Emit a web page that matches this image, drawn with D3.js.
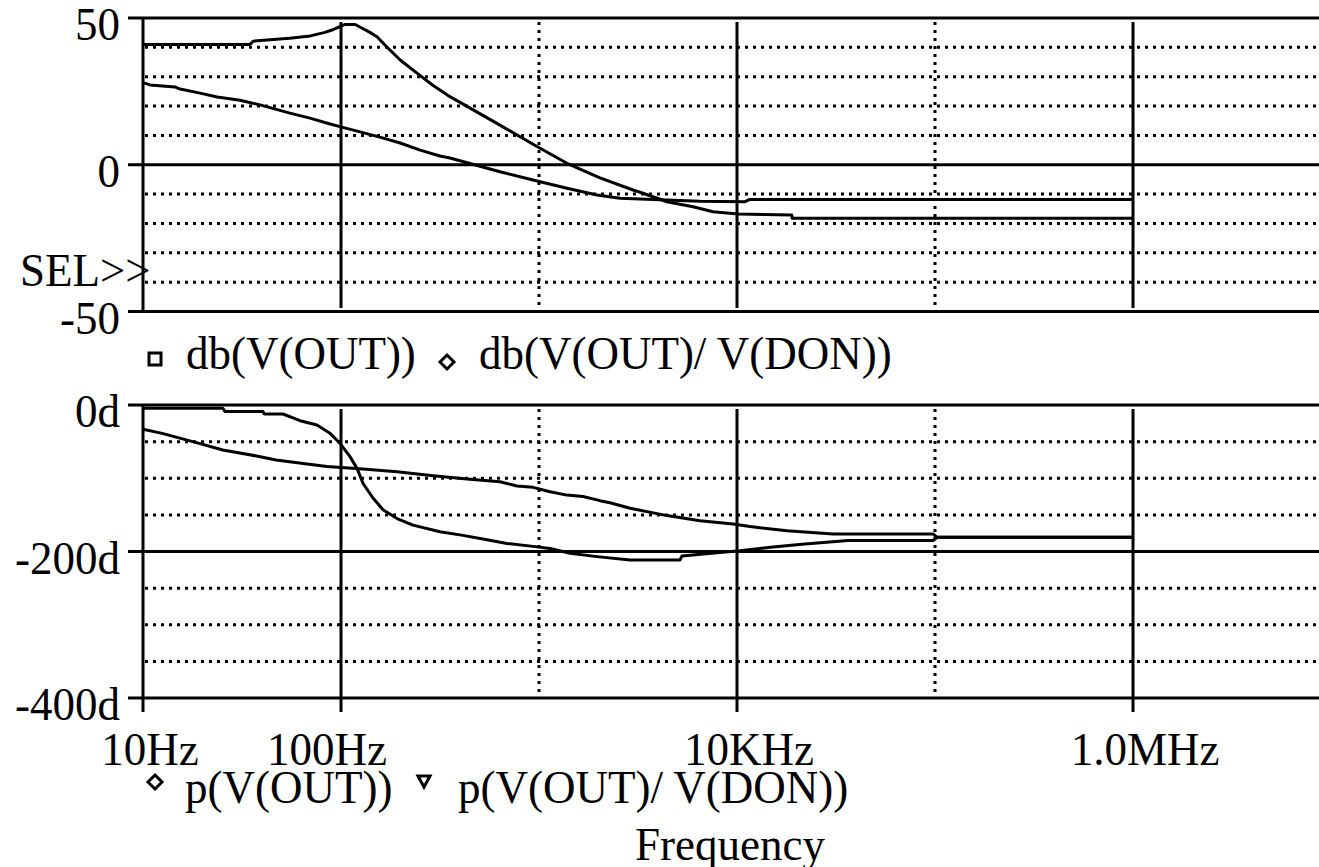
<!DOCTYPE html>
<html>
<head>
<meta charset="utf-8">
<script src="https://cdn.jsdelivr.net/npm/d3@7"></script>
<style>
  html, body { margin: 0; padding: 0; background: #fff; }
  svg { display: block; }
  text { font-family: "Liberation Serif", "Times New Roman", serif; fill: #000; }
</style>
</head>
<body>
<svg id="chart" width="1319" height="867"></svg>
<script>
// ---- data -------------------------------------------------------------
// Gain (dB) traces, sampled at frequency in Hz
const dbOutFreq = [10, 34.7, 36, 55, 70, 83, 90, 98, 105, 118, 128, 140, 152, 170, 199, 242, 292, 355, 635, 977, 1384, 2033, 2985, 3352, 4430, 5995, 7568, 10120, 18900, 19000, 1e6];
const dbOutVals = [41.0, 41.0, 42.1, 43.1, 43.9, 45.1, 45.9, 47.0, 47.8, 47.8, 46.5, 45.1, 43.6, 40.2, 35.7, 31.2, 27.0, 23.2, 13.5, 6.2, 0.5, -4.5, -8.6, -9.7, -12.6, -14.3, -16.0, -16.8, -17.1, -18.2, -18.2];

const dbRatioFreq = [10, 10.85, 14.5, 15.4, 19.4, 23.7, 30.9, 39, 55.2, 69.7, 88, 100, 124.8, 157, 199, 251, 316, 355, 635, 933, 1384, 1963, 2565, 6505, 10970, 11630, 1e6];
const dbRatioVals = [28, 27.2, 26.5, 25.8, 24.4, 23.1, 22, 20.4, 17.6, 15.9, 13.9, 12.9, 11.2, 9.4, 7.4, 5, 3, 2.3, -2.4, -5.2, -8.0, -10.3, -11.4, -12.4, -12.6, -11.8, -11.8];

// Phase (degrees) traces
const pOutFreq = [10, 25.3, 26, 40.4, 41, 50.9, 62.1, 75.6, 88, 98.9, 111, 120.5, 129.2, 145, 163, 192, 231, 316, 413, 521, 689, 933, 1137, 1434, 1963, 2883, 5150, 5275, 7930, 10360, 15200, 21300, 36390, 97800, 102400, 1e6];
const pOutVals = [-4.5, -4.5, -9, -9, -12.3, -12.3, -21.4, -27.3, -38.7, -52.3, -70.5, -86.5, -107, -127, -143, -155, -164, -173, -178, -183, -189, -193, -196, -202.5, -207, -211.6, -211.6, -206, -201.6, -199, -194, -190, -185, -185, -180.6, -180.6];

const pRatioFreq = [10, 12.5, 19, 25.3, 37.5, 47, 63, 85, 129, 192, 292, 433, 635, 774, 933, 1137, 1384, 1668, 2033, 2284, 2883, 4430, 6505, 9550, 11630, 17900, 30550, 97800, 102400, 1e6];
const pRatioVals = [-33, -38.7, -52, -61.4, -69.6, -75, -79.6, -84, -87.4, -91, -96.5, -101, -104.7, -110.6, -112.4, -118.4, -123, -125, -130.6, -133.4, -141, -151, -158, -162.5, -166, -171.6, -176, -176, -180.6, -180.6];

// Axis ticks
const freqTicks = [10, 100, 1e3, 1e4, 1e5, 1e6];
const freqLabelTicks = [10, 100, 1e4, 1e6];
const freqLabels = ["10Hz", "100Hz", "10KHz", "1.0MHz"];
const gainTicks = [50, 0, -50];
const gainLabels = ["50", "0", "-50"];
const phaseTicks = [0, -200, -400];
const phaseLabels = ["0d", "-200d", "-400d"];

const topLegend = ["db(V(OUT))", "db(V(OUT)/ V(DON))"];
const bottomLegend = ["p(V(OUT))", "p(V(OUT)/ V(DON))"];

// ---- layout ----------------------------------------------------------
const svg = d3.select("#chart");
const W = 1319;
const FS = 45;
const LW = 3;
const DOTS = "3,5";

const x = d3.scaleLog().domain([10, 1e7]).range([143, 1331]);
const yTop = d3.scaleLinear().domain([-50, 50]).range([311.5, 18]);
const yBot = d3.scaleLinear().domain([-400, 0]).range([698, 405]);

// slightly tall serif lettering
function label(parent, tx, ty, str, anchor) {
  return parent.append("text")
    .attr("transform", `translate(${tx},${ty}) scale(1,1.05)`)
    .attr("text-anchor", anchor || "start")
    .attr("font-size", FS)
    .text(str);
}

function panel(g, y, major, minorStep, labels, vTop, vBot, vBotSolid) {
  const [lo, hi] = y.domain();
  // dotted horizontal grid
  const minor = d3.range(lo, hi + 1e-9, minorStep).filter(v => !major.includes(v));
  g.selectAll(".hdot").data(minor).join("line")
    .attr("x1", 145).attr("x2", W)
    .attr("y1", d => y(d)).attr("y2", d => y(d))
    .attr("stroke", "#000").attr("stroke-width", LW).attr("stroke-dasharray", DOTS);
  // vertical grid: solid at labelled decades, dotted between
  freqTicks.slice(1).forEach(f => {
    const solid = freqLabelTicks.includes(f);
    g.append("line")
      .attr("x1", x(f)).attr("x2", x(f))
      .attr("y1", vTop).attr("y2", solid ? vBotSolid : vBot)
      .attr("stroke", "#000").attr("stroke-width", LW)
      .attr("stroke-dasharray", solid ? null : DOTS);
  });
  // solid horizontal lines at labelled values
  g.selectAll(".hmaj").data(major).join("line")
    .attr("x1", 128).attr("x2", W)
    .attr("y1", d => y(d)).attr("y2", d => y(d))
    .attr("stroke", "#000").attr("stroke-width", LW);
  // value labels
  major.forEach((v, i) => label(g, 120, y(v) + 22, labels[i], "end"));
}

const gTop = svg.append("g");
panel(gTop, yTop, gainTicks, 10, gainLabels, 22, 308, 308);
gTop.append("line").attr("x1", x(10)).attr("x2", x(10))
  .attr("y1", yTop(50)).attr("y2", yTop(-50))
  .attr("stroke", "#000").attr("stroke-width", LW);

const gBot = svg.append("g");
panel(gBot, yBot, phaseTicks, 50, phaseLabels, 409, 693, 712);
gBot.append("line").attr("x1", x(10)).attr("x2", x(10))
  .attr("y1", yBot(0)).attr("y2", 712)
  .attr("stroke", "#000").attr("stroke-width", LW);

// frequency labels under the lower panel
const labelShift = { "10Hz": 7, "100Hz": -14, "10KHz": 12, "1.0MHz": 12 };
freqLabelTicks.forEach((f, i) =>
  label(svg, x(f) + labelShift[freqLabels[i]], 765, freqLabels[i], "middle"));

label(svg, 635, 860, "Frequency");
label(svg, 20, 286, "SEL>>");

// ---- traces ----------------------------------------------------------
function trace(g, y, fs, vs) {
  const pts = fs.map((f, i) => [f, vs[i]]);
  g.append("path")
    .attr("d", d3.line().x(d => x(d[0])).y(d => y(d[1]))(pts))
    .attr("fill", "none").attr("stroke", "#000")
    .attr("stroke-width", LW).attr("stroke-linejoin", "round");
}
trace(gTop, yTop, dbOutFreq, dbOutVals);
trace(gTop, yTop, dbRatioFreq, dbRatioVals);
trace(gBot, yBot, pOutFreq, pOutVals);
trace(gBot, yBot, pRatioFreq, pRatioVals);

// ---- legends ---------------------------------------------------------
function marker(kind, cx, cy) {
  let d;
  if (kind === "square") d = `M${cx-6},${cy-6}h12v12h-12z`;
  else if (kind === "diamond") d = `M${cx},${cy-7}L${cx+7},${cy}L${cx},${cy+7}L${cx-7},${cy}Z`;
  else d = `M${cx-6},${cy-5}L${cx+6},${cy-5}L${cx},${cy+6}Z`;
  svg.append("path").attr("d", d).attr("fill", "none")
    .attr("stroke", "#000").attr("stroke-width", 3);
}
marker("square", 155, 359);
label(svg, 186, 369, topLegend[0]);
marker("diamond", 447, 362);
label(svg, 479, 369, topLegend[1]);

marker("diamond", 155, 782);
label(svg, 185, 803, bottomLegend[0]);
marker("triangle", 424, 781);
label(svg, 458, 803, bottomLegend[1]);
</script>
</body>
</html>
